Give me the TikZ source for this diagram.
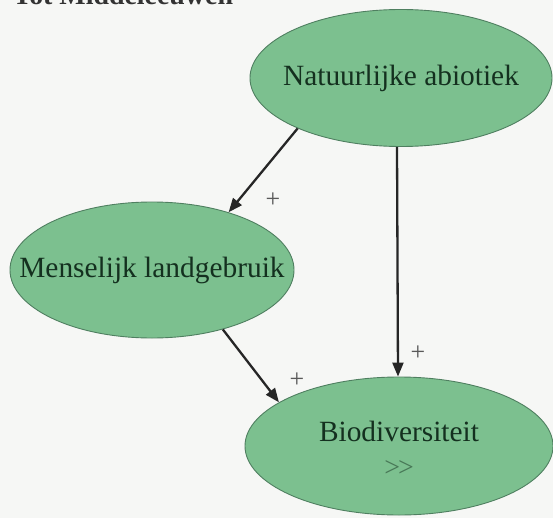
\documentclass[tikz,border=0pt]{standalone}
\usepackage{fontspec}
\setmainfont{Liberation Serif}
\usetikzlibrary{shapes.geometric,arrows.meta}
\definecolor{bubble}{HTML}{7CC08F}
\definecolor{bubbleedge}{HTML}{4F7F60}
\definecolor{inktext}{HTML}{14301F}
\definecolor{paper}{HTML}{F6F7F5}
\tikzset{
  bubble/.style={ellipse, draw=bubbleedge, line width=0.9bp, fill=bubble, inner sep=0pt,
    text=inktext, font=\fontsize{29.5}{32}\selectfont},
  link/.style={line width=2.3bp, draw=black!85, -{Triangle[length=14bp,width=11bp]}},
  sign/.style={font=\fontsize{26}{26}\selectfont, text=black!65, inner sep=0pt}
}
\begin{document}
\begin{tikzpicture}[x=1bp,y=-1bp]
\useasboundingbox (0,0) rectangle (553,518);
\fill[paper] (0,0) rectangle (553,518);
\node[anchor=base west, font=\fontsize{28}{30}\selectfont\bfseries, text=black!80, inner sep=0pt] (title) at (13,5) {Tot Middeleeuwen};
\node[bubble, minimum width=302bp, minimum height=137bp] (na) at (401,78) {\makebox[0pt]{\raisebox{-3bp}{Natuurlijke abiotiek}}};
\node[bubble, minimum width=284bp, minimum height=136bp] (ml) at (152,270) {\makebox[0pt]{\raisebox{-3bp}{Menselijk landgebruik}}};
\node[bubble, minimum width=308bp, minimum height=138bp] (bd) at (399,446) {\makebox[0pt]{\raisebox{-13bp}[0pt][0pt]{\begin{tabular}{@{}c@{}}Biodiversiteit\\[3bp]{\fontsize{28}{28}\selectfont\color{inktext!50!bubble}{>}\kern-2bp{>}}\end{tabular}}}};
\draw[link] (na.206) -- (ml.37);
\draw[link] (ml.-40) -- (bd.160);
\draw[link] ([xshift=-4bp]na.south) -- ([xshift=-1bp]bd.north);
\node[sign] (p1) at (273,200) {+};
\node[sign] (p2) at (297,380) {+};
\node[sign] (p3) at (418,353) {+};
\end{tikzpicture}
\end{document}
